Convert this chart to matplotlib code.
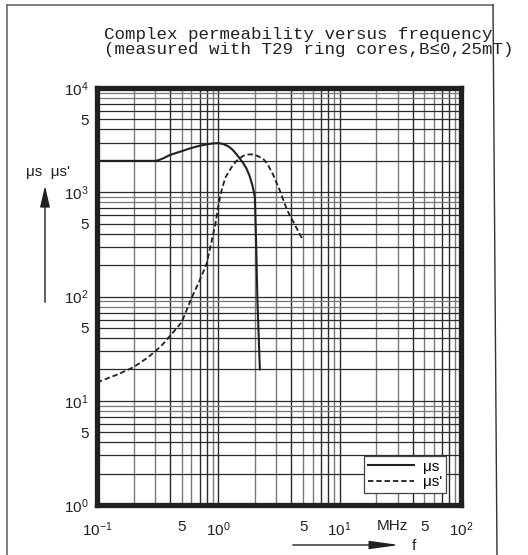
import matplotlib
matplotlib.use("Agg")
import matplotlib.pyplot as plt
from matplotlib.lines import Line2D
from matplotlib.patches import FancyArrowPatch

# values, frequency in MHz
mu_s_freq = [0.1, 0.2, 0.3, 0.32, 0.35, 0.4, 0.5, 0.6, 0.7, 0.8, 0.9, 1.0, 1.1, 1.2, 1.3,
             1.4, 1.5, 1.6, 1.7, 1.8, 1.9, 1.95, 2.0, 2.05, 2.1, 2.2]
mu_s_vals = [2000, 2000, 2000, 2025, 2110, 2280, 2480, 2660, 2790, 2880, 2940, 2960, 2900,
             2770, 2580, 2340, 2110, 1910, 1700, 1460, 1190, 1040, 900, 318, 91, 20]

mu_s2_freq = [0.1, 0.15, 0.2, 0.25, 0.3, 0.35, 0.4, 0.45, 0.5, 0.57, 0.6, 0.7, 0.8,
              0.86, 0.9, 0.95, 1.0, 1.04, 1.075, 1.15, 1.28, 1.4, 1.6, 1.75, 1.92,
              2.1, 2.34, 2.55, 2.82, 3.2, 3.69, 4.3, 4.9]
mu_s2_vals = [15, 18, 21, 25, 29.5, 35, 42, 49, 57, 83, 96, 142, 205,
              300, 380, 510, 740, 930, 1100, 1400, 1725, 1980, 2235, 2300, 2310,
              2230, 2100, 1850, 1485, 1050, 673, 480, 360]

x_ticks = [0.1, 0.5, 1, 5, 10, 50, 100]
x_labels = [r"$\mathregular{10^{-1}}$", "5", r"$\mathregular{10^{0}}$", "5",
            r"$\mathregular{10^{1}}$", "5", r"$\mathregular{10^{2}}$"]
y_ticks = [1, 5, 10, 50, 100, 500, 1000, 5000, 10000]
y_labels = [r"$\mathregular{10^{0}}$", "5", r"$\mathregular{10^{1}}$", "5",
            r"$\mathregular{10^{2}}$", "5", r"$\mathregular{10^{3}}$", "5",
            r"$\mathregular{10^{4}}$"]

title = "Complex permeability versus frequency\n(measured with T29 ring cores,B\u22640,25mT)"

plt.rcParams["font.family"] = ["Liberation Sans", "DejaVu Sans"]
plt.rcParams["mathtext.fontset"] = "custom"
plt.rcParams["mathtext.rm"] = "Liberation Sans"
plt.rcParams["mathtext.it"] = "Liberation Sans:italic"
plt.rcParams["mathtext.bf"] = "Liberation Sans:bold"

ink = "#231f20"
W, H = 528, 555


def fx(px):
    return px / W


def fy(py):
    return 1 - py / H


fig = plt.figure(figsize=(W / 100, H / 100), dpi=100)
ax = fig.add_axes([fx(97), fy(505), (461 - 97) / W, (505 - 88) / H])
ax.set_xscale("log")
ax.set_yscale("log")
ax.set_xlim(0.1, 100)
ax.set_ylim(1, 10000)

# grid drawn by hand so dark / grey lines can be mixed like the scan
for d in [0.1, 1, 10]:
    for k in range(2, 10):
        col = "#7a7a7a" if k in (2, 3, 5, 6, 9) else "#2a2a2a"
        ax.axvline(d * k, color=col, lw=1.0, zorder=1)
    ax.axvline(d, color="#2a2a2a", lw=1.0, zorder=1)
for d in [1, 10, 100, 1000]:
    for k in range(1, 10):
        col = "#777777" if k in (8, 9) else "#2a2a2a"
        ax.axhline(d * k, color=col, lw=0.9, zorder=1)

ax.plot(mu_s_freq, mu_s_vals, color=ink, lw=1.5, zorder=3, label="\u03bcs",
        solid_joinstyle="round")
ax.plot(mu_s2_freq, mu_s2_vals, color=ink, lw=1.3, ls=(0, (3, 1.6)), zorder=3,
        label="\u03bcs'")

ax.set_xticks(x_ticks, x_labels)
ax.set_yticks(y_ticks, y_labels)
ax.minorticks_off()
ax.tick_params(axis="both", length=0, labelsize=11, colors=ink)
ax.tick_params(axis="x", pad=11)
ax.tick_params(axis="y", pad=6)
ax.text(27, -0.05, "MHz", transform=ax.get_xaxis_transform(), ha="center",
        va="center", fontsize=11, color=ink)

for s in ax.spines.values():
    s.set_linewidth(3.8)
    s.set_color(ink)
    s.set_zorder(5)

leg = ax.legend(loc="lower right", bbox_to_anchor=(0.959, 0.0287), borderaxespad=0,
                fontsize=11, handlelength=3.0, handletextpad=0.6, labelspacing=0.1,
                borderpad=0.25, fancybox=False, framealpha=1, edgecolor="#444444")
leg.get_frame().set_linewidth(0.9)
leg.set_zorder(6)

# title
fig.text(fx(104), fy(42), title, family=["Liberation Mono", "DejaVu Sans Mono"],
         fontsize=12.6, color=ink, va="center", ha="left", linespacing=0.95)

# y label with arrow
fig.text(fx(48), fy(172), "\u03bcs  \u03bcs'", fontsize=11, color=ink, ha="center", va="center")
fig.add_artist(FancyArrowPatch((fx(45), fy(305)), (fx(45), fy(183)), transform=fig.transFigure,
                               arrowstyle="-|>,head_length=1.3,head_width=0.3",
                               mutation_scale=10, color=ink, lw=1.0))

# x label with arrow
fig.add_artist(FancyArrowPatch((fx(290), fy(545)), (fx(402), fy(545)), transform=fig.transFigure,
                               arrowstyle="-|>,head_length=1.8,head_width=0.25",
                               mutation_scale=10, color=ink, lw=1.0))
fig.text(fx(414), fy(546), "f", fontsize=11, color=ink, ha="center", va="center")

# outer frame of the scan
frame = "#6a6a6a"
fig.add_artist(Line2D([fx(7), fx(7)], [fy(5), fy(555)], color=frame, lw=1.2))
fig.add_artist(Line2D([fx(7), fx(493)], [fy(5), fy(5)], color=frame, lw=1.2))
fig.add_artist(Line2D([fx(493), fx(497)], [fy(5), fy(555)], color="#333333", lw=1.0))

fig.savefig("out.png", dpi=100, facecolor="white")
